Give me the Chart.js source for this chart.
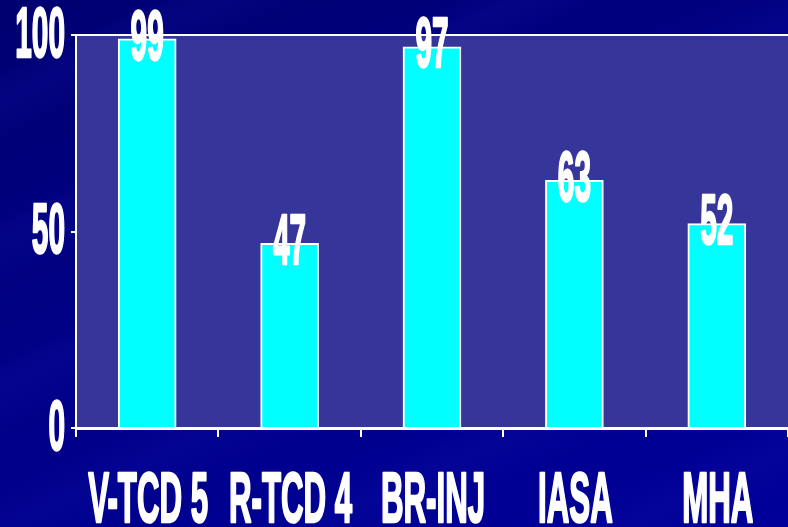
<!DOCTYPE html>
<html>
<head>
<meta charset="utf-8">
<script src="https://cdn.jsdelivr.net/npm/chart.js"></script>
<style>
  html, body { margin: 0; padding: 0; }
  body {
    width: 788px; height: 527px; overflow: hidden;
    background:
      repeating-linear-gradient(155deg, rgba(0,0,60,0) 0px, rgba(0,0,60,0) 60px, rgba(20,20,170,0.22) 90px, rgba(0,0,60,0) 130px),
      linear-gradient(160deg, #000070 0%, #000086 45%, #00009a 100%);
  }
  #wrap { width: 788px; height: 527px; }
</style>
</head>
<body>
<div id="wrap"><canvas id="chartCanvas" width="788" height="527"></canvas></div>
<script>
// Chart data
const categories = ['V-TCD 5', 'R-TCD 4', 'BR-INJ', 'IASA', 'MHA'];
const values = [99, 47, 97, 63, 52];
const yTicks = [0, 50, 100];

// Draw squeezed bold text (the original uses a very narrow face)
function drawNarrow(ctx, text, x, y, size, sx, align, baseline) {
    ctx.save();
    ctx.translate(x, y);
    ctx.scale(sx, 1);
    ctx.font = 'bold ' + size + 'px "Liberation Sans Narrow", "Arial Narrow", "Liberation Sans", sans-serif';
    ctx.textAlign = align;
    ctx.textBaseline = baseline;
    ctx.fillStyle = '#ffffff';
    ctx.strokeStyle = '#ffffff';
    ctx.lineWidth = 2.5;
    ctx.lineJoin = 'round';
    ctx.strokeText(text, 0, 0);
    ctx.fillText(text, 0, 0);
    ctx.restore();
}

const slidePlugin = {
    id: 'slide',
    beforeDraw(chart) {
        const a = chart.chartArea;
        const ctx = chart.ctx;
        ctx.save();
        ctx.fillStyle = '#36369a';
        ctx.fillRect(a.left, a.top, a.right - a.left, a.bottom - a.top);
        ctx.restore();
    },
    afterDraw(chart) {
        const a = chart.chartArea;
        const ctx = chart.ctx;
        // top border
        ctx.save();
        ctx.strokeStyle = '#ffffff';
        ctx.lineWidth = 2;
        ctx.beginPath();
        ctx.moveTo(a.left, a.top);
        ctx.lineTo(a.right, a.top);
        ctx.stroke();
        ctx.restore();

        // y tick labels
        const yScale = chart.scales.y;
        yTicks.forEach(v => {
            drawNarrow(ctx, String(v), 65, yScale.getPixelForValue(v) + 2, 71, 0.42, 'right', 'middle');
        });

        // x labels
        const xScale = chart.scales.x;
        categories.forEach((c, i) => {
            drawNarrow(ctx, c, xScale.getPixelForValue(i) + 1, 522, 71, 0.44, 'center', 'alphabetic');
        });

        // value labels on bar tops
        const meta = chart.getDatasetMeta(0);
        meta.data.forEach((el, i) => {
            drawNarrow(ctx, String(values[i]), el.x, el.y + 1, 71, 0.42, 'center', 'middle');
        });
    }
};

const ctx = document.getElementById('chartCanvas').getContext('2d');
const chart = new Chart(ctx, {
    type: 'bar',
    data: {
        labels: categories,
        datasets: [{
            data: values,
            backgroundColor: '#00ffff',
            borderColor: '#ffffff',
            borderWidth: 2,
            barThickness: 58
        }]
    },
    options: {
        responsive: false,
        animation: false,
        layout: { padding: { top: 35, right: 0, left: 0, bottom: 0 } },
        plugins: { legend: { display: false }, tooltip: { enabled: false } },
        scales: {
            x: {
                ticks: { display: false },
                grid: { drawOnChartArea: false, drawTicks: true, tickLength: 9, color: '#ffffff', lineWidth: 2, offset: true },
                border: { display: true, color: '#ffffff', width: 3 },
                afterFit(s) { s.height = 99; }
            },
            y: {
                min: 0,
                max: 100,
                ticks: { display: false, stepSize: 50 },
                grid: { drawOnChartArea: false, drawTicks: true, tickLength: 5, color: '#ffffff', lineWidth: 2 },
                border: { display: true, color: '#ffffff', width: 2 },
                afterFit(s) { s.width = 76; }
            }
        }
    },
    plugins: [slidePlugin]
});
</script>
</body>
</html>
